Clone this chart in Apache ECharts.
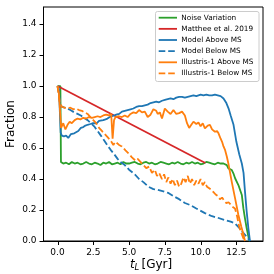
<!DOCTYPE html>
<html>
<head>
<meta charset="utf-8">
<script src="https://cdn.jsdelivr.net/npm/echarts@6/dist/echarts.min.js"></script>
<style>html,body{margin:0;padding:0;background:#fff}#c{width:274px;height:274px}</style>
</head>
<body>
<div id="c"></div>
<script>
// ---- data ----
var seriesNames = ['Noise Variation','Matthee et al. 2019','Model Above MS','Model Below MS','Illustris-1 Above MS','Illustris-1 Below MS'];
var xTicks = [0, 2.5, 5, 7.5, 10, 12.5];
var yTicks = [0, 0.2, 0.4, 0.6, 0.8, 1.0, 1.2, 1.4];

var tNoise = [0,0.2,0.24,0.4,0.6,0.8,1.0,1.2,1.4,1.6,1.8,2.0,2.2,2.4,2.6,2.8,3.0,3.2,3.4,3.6,3.8,4.0,4.2,4.4,4.6,4.8,5.0,5.2,5.4,5.6,5.8,6.0,6.2,6.4,6.6,6.8,7.0,7.2,7.4,7.6,7.8,8.0,8.2,8.4,8.6,8.8,9.0,9.2,9.4,9.6,9.8,10.0,10.2,10.4,10.6,10.8,11.0,11.2,11.4,11.6,11.83,11.94,12.18,12.29,12.41,12.64,12.88,12.99,13.1,13.22,13.34,13.4];
var fNoise = [1.0,1.0,0.51,0.50,0.505,0.495,0.51,0.50,0.505,0.495,0.50,0.51,0.50,0.495,0.505,0.50,0.49,0.505,0.50,0.51,0.495,0.50,0.505,0.495,0.51,0.50,0.50,0.505,0.51,0.50,0.495,0.505,0.51,0.50,0.505,0.495,0.50,0.51,0.505,0.50,0.495,0.505,0.50,0.51,0.50,0.495,0.505,0.50,0.51,0.50,0.505,0.495,0.50,0.51,0.505,0.50,0.495,0.505,0.50,0.50,0.49,0.469,0.458,0.437,0.405,0.361,0.297,0.21,0.146,0.082,0.028,0.0];

var tMatthee = [0, 10.33];
var fMatthee = [1.0, 0.503];

var tModelAbove = [0,0.1,0.22,0.3,0.45,0.6,0.75,0.94,1.05,1.17,1.3,1.45,1.63,1.8,1.95,2.1,2.3,2.45,2.56,2.75,2.9,3.03,3.2,3.35,3.49,3.65,3.8,3.96,4.1,4.31,4.5,4.7,4.9,5.1,5.3,5.5,5.7,5.9,6.1,6.3,6.5,6.7,6.9,7.1,7.3,7.5,7.7,7.9,8.1,8.3,8.5,8.7,8.9,9.1,9.3,9.5,9.7,9.85,10.0,10.2,10.4,10.6,10.8,11.0,11.2,11.4,11.6,11.8,11.95,12.1,12.3,12.5,12.7,12.88,13.0,13.1,13.22,13.34,13.45];
var fModelAbove = [1.0,0.98,0.70,0.68,0.675,0.68,0.665,0.69,0.68,0.695,0.70,0.71,0.73,0.735,0.745,0.75,0.755,0.76,0.765,0.76,0.775,0.77,0.78,0.785,0.79,0.80,0.805,0.81,0.815,0.82,0.835,0.84,0.845,0.85,0.855,0.865,0.87,0.87,0.875,0.88,0.89,0.895,0.90,0.895,0.905,0.91,0.915,0.92,0.915,0.925,0.93,0.93,0.925,0.93,0.935,0.94,0.935,0.94,0.945,0.94,0.945,0.94,0.94,0.945,0.94,0.935,0.92,0.89,0.856,0.81,0.75,0.64,0.56,0.50,0.44,0.32,0.19,0.08,0.0];

var tModelBelow = [0,0.1,0.2,0.35,0.5,0.7,0.9,1.17,1.4,1.63,1.85,2.1,2.33,2.56,2.8,3.03,3.25,3.49,3.7,3.96,4.2,4.4,4.7,5.0,5.4,5.7,6.0,6.36,6.7,7.0,7.4,7.75,8.1,8.5,8.9,9.27,9.7,10.3,10.8,11.2,11.7,12.1,12.4,12.7,12.9,13.2,13.45];
var fModelBelow = [1.0,0.95,0.87,0.865,0.86,0.854,0.845,0.83,0.82,0.81,0.795,0.78,0.76,0.74,0.71,0.68,0.65,0.617,0.59,0.56,0.53,0.51,0.49,0.46,0.43,0.40,0.38,0.35,0.335,0.33,0.32,0.31,0.29,0.27,0.245,0.232,0.21,0.18,0.16,0.15,0.135,0.125,0.114,0.085,0.06,0.03,0.0];

var tIllAbove = [0,0.1,0.25,0.4,0.55,0.7,0.85,1.0,1.2,1.4,1.6,1.8,2.0,2.2,2.4,2.6,2.8,3.0,3.2,3.4,3.6,3.75,3.85,3.95,4.05,4.3,4.5,4.7,4.9,5.1,5.3,5.5,5.7,5.9,6.1,6.3,6.5,6.7,6.9,7.0,7.15,7.3,7.5,7.7,7.9,8.1,8.3,8.5,8.7,8.9,9.05,9.2,9.35,9.5,9.7,9.85,10.0,10.15,10.3,10.5,10.65,10.8,11.0,11.15,11.25,11.4,11.5,11.6,11.7,11.83,11.94,12.18,12.41,12.64,12.85,13.0,13.1];
var fIllAbove = [1.0,0.95,0.73,0.76,0.72,0.75,0.77,0.76,0.78,0.79,0.785,0.795,0.79,0.80,0.795,0.80,0.805,0.80,0.81,0.815,0.81,0.82,0.66,0.78,0.80,0.805,0.80,0.81,0.80,0.82,0.83,0.825,0.845,0.83,0.835,0.80,0.815,0.85,0.84,0.82,0.83,0.79,0.855,0.835,0.82,0.845,0.82,0.825,0.835,0.81,0.76,0.73,0.75,0.77,0.755,0.765,0.74,0.76,0.727,0.745,0.75,0.72,0.705,0.71,0.695,0.66,0.64,0.61,0.59,0.545,0.50,0.38,0.275,0.168,0.09,0.04,0.0];

var tIllBelow = [0,0.15,0.3,0.5,0.7,0.9,1.1,1.3,1.5,1.7,1.9,2.1,2.3,2.5,2.7,2.9,3.1,3.3,3.5,3.7,3.9,4.05,4.3,4.5,4.75,4.96,5.2,5.43,5.6,5.8,6.0,6.2,6.4,6.6,6.8,6.95,7.1,7.3,7.45,7.6,7.75,7.9,8.05,8.2,8.35,8.5,8.65,8.8,8.95,9.1,9.25,9.4,9.55,9.7,9.85,10.0,10.15,10.3,10.45,10.6,10.75,10.9,11.05,11.2,11.35,11.5,11.65,11.8,11.95,12.1,12.25,12.4,12.55,12.7,12.85,13.0,13.1];
var fIllBelow = [1.0,0.90,0.865,0.86,0.855,0.86,0.85,0.855,0.845,0.84,0.83,0.82,0.80,0.78,0.76,0.73,0.71,0.69,0.67,0.65,0.62,0.64,0.62,0.61,0.585,0.566,0.54,0.52,0.53,0.51,0.49,0.47,0.48,0.44,0.46,0.42,0.44,0.40,0.43,0.38,0.41,0.37,0.40,0.36,0.39,0.35,0.37,0.41,0.38,0.42,0.37,0.40,0.36,0.39,0.37,0.40,0.36,0.38,0.35,0.34,0.33,0.315,0.30,0.29,0.27,0.28,0.26,0.245,0.25,0.235,0.22,0.21,0.16,0.09,0.05,0.015,0.0];

function pairs(t, f){ var out=[]; for (var i=0;i<t.length;i++) out.push([t[i], f[i]]); return out; }

var FONT = 'DejaVu Sans';
var LW = 1.8;
var DASH = [6.6, 2.9];
var TICKLEN = 4;
var colors = ['#2ca02c','#d62728','#1f77b4','#1f77b4','#ff7f0e','#ff7f0e'];
var dashed = [false,false,false,true,false,true];

var chart = echarts.init(document.getElementById('c'), null, {renderer:'canvas'});
function line(i, data){
  return {
    name: seriesNames[i], type: 'line', data: data, showSymbol: false, symbol: 'none',
    lineStyle: {color: colors[i], width: LW, type: dashed[i] ? DASH : 'solid'},
    itemStyle: {color: colors[i]},
    silent: true, animation: false
  };
}

// legend drawn as graphic (box + line handles + text)
var LX = 155.5, LY = 11.5, LW_BOX = 103.5, LH_BOX = 70;
var legendEls = [{type: 'rect', shape: {x: LX, y: LY, width: LW_BOX, height: LH_BOX, r: 2}, silent: true,
  style: {fill: 'rgba(255,255,255,0.8)', stroke: '#cccccc', lineWidth: 1}, z: 50}];
for (var i = 0; i < seriesNames.length; i++) {
  var cy = 17.7 + i * 11.15;
  legendEls.push({type: 'line', silent: true, z: 51,
    shape: {x1: 158.7, y1: cy, x2: 177, y2: cy},
    style: {stroke: colors[i], lineWidth: LW, lineDash: dashed[i] ? DASH : null}});
  legendEls.push({type: 'text', silent: true, z: 51, x: 181.3, y: cy,
    style: {text: seriesNames[i], fontFamily: FONT, fontSize: 7.3, fill: '#000', align: 'left', verticalAlign: 'middle'}});
}

var baseGraphic = [
  {type: 'text', x: 11, y: 124, rotation: Math.PI/2, silent: true,
    style: {text: 'Fraction', fontFamily: FONT, fontSize: 12, fill: '#000', align: 'center', verticalAlign: 'middle'}},
  {type: 'text', x: 130, y: 264.5, silent: true,
    style: {text: 't', fontFamily: FONT, fontStyle: 'italic', fontSize: 12, fill: '#000', align: 'left', verticalAlign: 'middle'}},
  {type: 'text', x: 134.5, y: 268, silent: true,
    style: {text: 'L', fontFamily: FONT, fontStyle: 'italic', fontSize: 8.5, fill: '#000', align: 'left', verticalAlign: 'middle'}},
  {type: 'text', x: 141.5, y: 264.5, silent: true,
    style: {text: '[Gyr]', fontFamily: FONT, fontSize: 12, fill: '#000', align: 'left', verticalAlign: 'middle'}}
].concat(legendEls);

var X_MIN = -0.98, X_MAX = 14.36, Y_MIN = 0, Y_MAX = 1.51;
chart.setOption({
  animation: false,
  grid: {left: 43.5, right: 11, top: 7, bottom: 33, show: true, borderColor: '#000', borderWidth: 1, backgroundColor: 'transparent'},
  xAxis: {
    type: 'value', min: X_MIN, max: X_MAX,
    axisLine: {show: true, onZero: false, lineStyle: {color: '#000', width: 1}},
    splitLine: {show: false},
    axisTick: {show: false},
    axisLabel: {customValues: xTicks, margin: 7, color: '#000', fontFamily: FONT, fontSize: 9,
      formatter: function(v){ return v.toFixed(1); }}
  },
  yAxis: {
    type: 'value', min: Y_MIN, max: Y_MAX,
    axisLine: {show: true, onZero: false, lineStyle: {color: '#000', width: 1}},
    splitLine: {show: false},
    axisTick: {show: false},
    axisLabel: {customValues: yTicks, margin: 7, color: '#000', fontFamily: FONT, fontSize: 9,
      formatter: function(v){ return v.toFixed(1); }}
  },
  graphic: baseGraphic,
  series: [
    line(0, pairs(tNoise, fNoise)),
    line(1, pairs(tMatthee, fMatthee)),
    line(2, pairs(tModelAbove, fModelAbove)),
    line(3, pairs(tModelBelow, fModelBelow)),
    line(4, pairs(tIllAbove, fIllAbove)),
    line(5, pairs(tIllBelow, fIllBelow))
  ]
});

// tick marks placed through the chart's own axis scales
var tickEls = [];
var bottomPx = chart.convertToPixel({gridIndex: 0}, [X_MIN, Y_MIN]);
xTicks.forEach(function(v){
  var p = chart.convertToPixel({gridIndex: 0}, [v, Y_MIN]);
  var x = Math.round(p[0]) + 0.5;
  tickEls.push({type: 'line', silent: true, z: 60, shape: {x1: x, y1: bottomPx[1], x2: x, y2: bottomPx[1] + TICKLEN},
    style: {stroke: '#000', lineWidth: 1}});
});
yTicks.forEach(function(v){
  var p = chart.convertToPixel({gridIndex: 0}, [X_MIN, v]);
  var y = Math.round(p[1]) + 0.5;
  tickEls.push({type: 'line', silent: true, z: 60, shape: {x1: bottomPx[0] - TICKLEN, y1: y, x2: bottomPx[0], y2: y},
    style: {stroke: '#000', lineWidth: 1}});
});
chart.setOption({graphic: baseGraphic.concat(tickEls)});
</script>
</body>
</html>
